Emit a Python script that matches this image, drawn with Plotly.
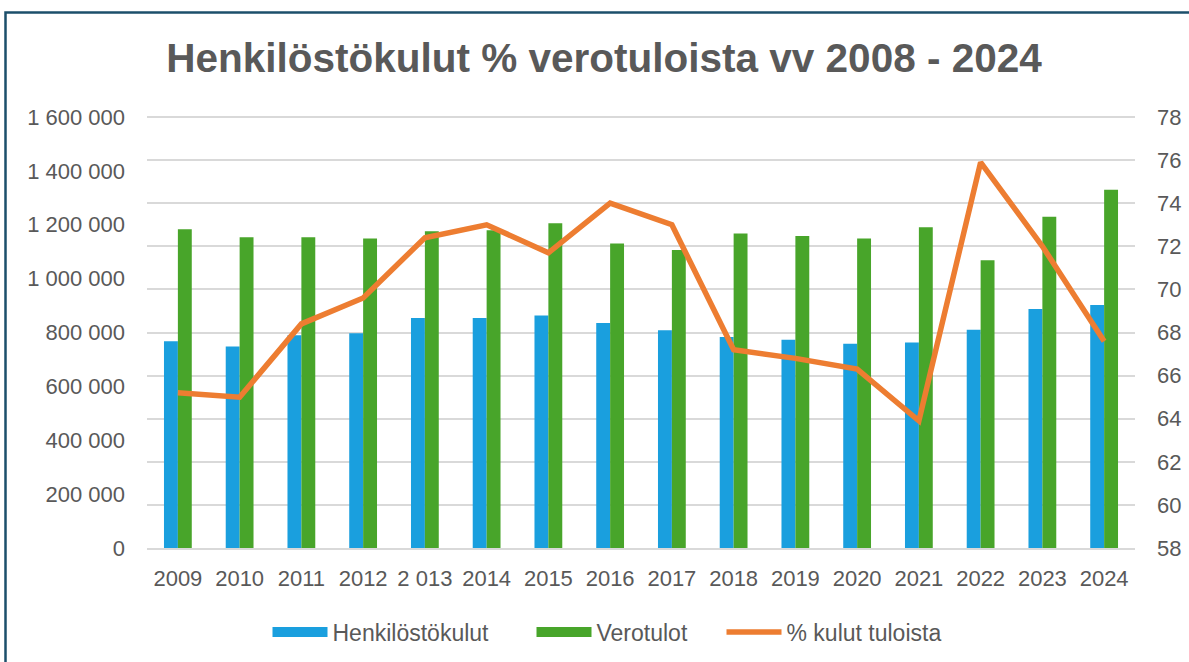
import plotly.graph_objects as go

years = ["2009", "2010", "2011", "2012", "2 013", "2014", "2015", "2016",
         "2017", "2018", "2019", "2020", "2021", "2022", "2023", "2024"]
henkilostokulut = [768000, 748000, 790000, 797000, 854000, 854000, 863000, 835000,
                   808000, 783000, 773000, 758000, 763000, 810000, 887000, 902000]
verotulot = [1183000, 1154000, 1154000, 1149000, 1176000, 1180000, 1206000, 1130000,
             1106000, 1168000, 1158000, 1149000, 1191000, 1068000, 1230000, 1330000]
kulut_pct = [65.2, 65.0, 68.4, 69.6, 72.4, 73.0, 71.7, 74.0,
             73.0, 67.2, 66.8, 66.3, 63.9, 75.9, 72.0, 67.6]

left_ticks = [0, 200000, 400000, 600000, 800000, 1000000, 1200000, 1400000, 1600000]
left_ticktext = ["0", "200 000", "400 000", "600 000", "800 000", "1 000 000",
                 "1 200 000", "1 400 000", "1 600 000"]

W, H = 1189, 662
L, R, T, B = 147, 54, 114, 114
pw, ph = W - L - R, H - T - B
BOTTOM_Y = H - B  # pixel y of the plot bottom

FONT = "Liberation Sans, Arial, sans-serif"
GREY = "#595959"
BLUE = "#1a9fde"
GREEN = "#48a52a"
ORANGE = "#ed7d31"

EXT = 1.007  # small headroom so the top gridline is drawn

fig = go.Figure()
fig.add_trace(go.Bar(x=years, y=henkilostokulut, name="Henkilöstökulut",
                     marker=dict(color=BLUE, line=dict(width=0)), showlegend=False))
fig.add_trace(go.Bar(x=years, y=verotulot, name="Verotulot",
                     marker=dict(color=GREEN, line=dict(width=0)), showlegend=False))
fig.add_trace(go.Scatter(x=years, y=kulut_pct, name="% kulut tuloista", yaxis="y2",
                         mode="lines", line=dict(color=ORANGE, width=5.5),
                         showlegend=False))
# legend entries (wide swatches like the original)
fig.add_trace(go.Scatter(x=[None], y=[None], mode="lines", name="Henkilöstökulut",
                         line=dict(color=BLUE, width=12), legendwidth=194))
fig.add_trace(go.Scatter(x=[None], y=[None], mode="lines", name="Verotulot",
                         line=dict(color=GREEN, width=12), legendwidth=120))
fig.add_trace(go.Scatter(x=[None], y=[None], mode="lines", name="% kulut tuloista",
                         line=dict(color=ORANGE, width=5.5)))

fig.update_layout(
    width=W, height=H,
    margin=dict(l=L, r=R, t=T, b=B, autoexpand=False),
    paper_bgcolor="white", plot_bgcolor="white",
    font=dict(family=FONT, size=22, color=GREY),
    title=dict(text="<b>Henkilöstökulut % verotuloista vv 2008 - 2024</b>",
               x=604 / W, xref="container", xanchor="center",
               y=1 - 58 / H, yref="container", yanchor="middle",
               font=dict(family=FONT, size=40.5, color=GREY)),
    barmode="group", bargap=0.55, bargroupgap=0,
    xaxis=dict(type="category", showgrid=False, showline=True, linecolor="#d9d9d9",
               linewidth=1.5, ticks="", ticklabelstandoff=10, automargin=False,
               tickfont=dict(size=22, color=GREY)),
    yaxis=dict(range=[0, 1600000 * EXT], tickvals=left_ticks, ticktext=left_ticktext,
               showgrid=False, zeroline=False, showline=False, ticks="",
               ticklabelstandoff=21, automargin=False,
               tickfont=dict(size=22, color=GREY)),
    yaxis2=dict(range=[58, 58 + 20 * EXT], dtick=2, tick0=58, overlaying="y", side="right",
                showgrid=True, gridcolor="#d9d9d9", gridwidth=1.5, zeroline=False,
                showline=False, ticks="", ticklabelstandoff=21, automargin=False,
                tickfont=dict(size=22, color=GREY)),
    legend=dict(orientation="h", x=(607 - L) / pw, xanchor="center",
                y=(BOTTOM_Y - 632) / ph, yanchor="middle", itemwidth=55,
                font=dict(size=23, color=GREY), traceorder="normal"),
    showlegend=True,
    shapes=[dict(type="rect", xref="paper", yref="paper",
                 x0=(5.5 - L) / pw, x1=(W + 20 - L) / pw,
                 y0=(BOTTOM_Y - H - 20) / ph, y1=1 + (T - 12.5) / ph,
                 line=dict(color="#1c4f6b", width=2.5), layer="above")],
)

fig.write_html("out.html", config={"displayModeBar": False},
               post_script="document.body.style.margin='0';")
